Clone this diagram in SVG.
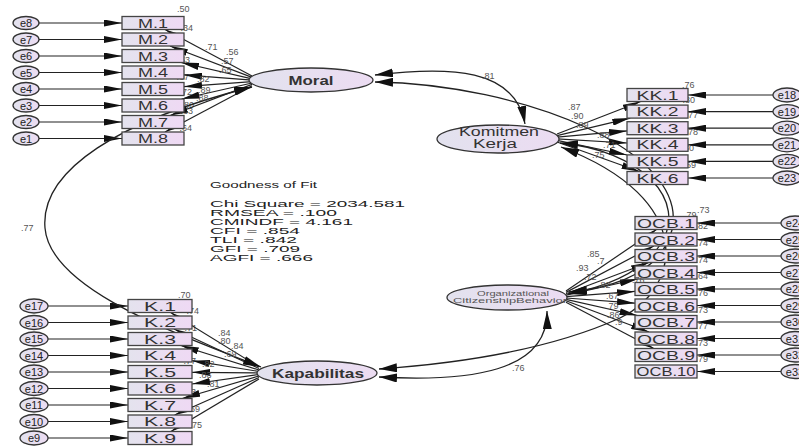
<svg xmlns="http://www.w3.org/2000/svg" width="799" height="446" viewBox="0 0 799 446">
<defs>
<linearGradient id="gb" x1="0" y1="0" x2="1" y2="0"><stop offset="0" stop-color="#e4e3ee"/><stop offset="1" stop-color="#efd9f4"/></linearGradient>
<linearGradient id="ge" x1="0" y1="0" x2="1" y2="0"><stop offset="0" stop-color="#e2e2ee"/><stop offset="1" stop-color="#ecdcf2"/></linearGradient>
<marker id="ah" viewBox="0 0 18 7" refX="18" refY="3.5" markerWidth="18" markerHeight="7" markerUnits="userSpaceOnUse" orient="auto-start-reverse"><path d="M0,0 L18,3.5 L0,7 z" fill="#111"/></marker>
<marker id="ch" viewBox="0 0 18 9" refX="18" refY="4.5" markerWidth="18" markerHeight="9" markerUnits="userSpaceOnUse" orient="auto-start-reverse"><path d="M0,0 L18,4.5 L0,9 z" fill="#111"/></marker>
<style>
text{font-family:"Liberation Sans",Arial,sans-serif}
.box{fill:url(#gb);stroke:#444;stroke-width:1.3}
.lat{fill:url(#ge);stroke:#333;stroke-width:1.3}
.err{fill:url(#ge);stroke:#333;stroke-width:1.3}
.bt{font-size:12px;fill:#333;text-anchor:middle}
.ot{font-size:13px;fill:#333;text-anchor:middle}
.et{font-size:11px;fill:#222;text-anchor:middle}
.lt{font-size:12px;font-weight:bold;fill:#333;text-anchor:middle}
.ln{fill:none;stroke:#222;stroke-width:1.2;marker-end:url(#ah)}
.cv{fill:none;stroke:#222;stroke-width:1.3;marker-start:url(#ch);marker-end:url(#ch)}
.v{font-size:9px;fill:#555}
.vr{font-size:9px;fill:#555;text-anchor:end}
.g{font-size:9.5px;fill:#222}
</style>
</defs>
<rect width="799" height="446" fill="#fff"/>

<!-- squared multiple correlation labels (partly hidden behind boxes) -->
<g id="r2">
<text class="v" x="177" y="12">.50</text>
<text class="vr" x="193" y="31">.34</text>
<text class="vr" x="190" y="63">.53</text>
<text class="vr" x="189" y="80">.67</text>
<text class="vr" x="192" y="95">.72</text>
<text class="vr" x="194" y="108">.80</text>
<text class="vr" x="193" y="114">.63</text>
<text class="vr" x="192" y="131">.64</text>
<text class="v" x="682" y="88">.76</text>
<text class="vr" x="695" y="103">.80</text>
<text class="vr" x="698" y="118">.77</text>
<text class="vr" x="698" y="135">.78</text>
<text class="vr" x="694" y="151">.80</text>
<text class="vr" x="696" y="168">.69</text>
<text class="v" x="697" y="213">.73</text>
<text class="v" x="684" y="218">.79</text>
<text class="vr" x="708" y="229">.82</text>
<text class="vr" x="708" y="246">.74</text>
<text class="vr" x="708" y="263">.74</text>
<text class="vr" x="708" y="279">.64</text>
<text class="vr" x="708" y="296">.76</text>
<text class="vr" x="708" y="313">.73</text>
<text class="vr" x="708" y="329">.77</text>
<text class="vr" x="708" y="346">.73</text>
<text class="vr" x="708" y="362">.79</text>
<text class="v" x="178" y="298">.70</text>
<text class="vr" x="199" y="314">.74</text>
<text class="vr" x="197" y="331">.71</text>
<text class="vr" x="196" y="364">.77</text>
<text class="vr" x="196" y="395">.83</text>
<text class="vr" x="200" y="412">.69</text>
<text class="vr" x="202" y="428">.75</text>
</g>

<!-- connectors -->
<g id="connectors">
<line class="ln" x1="39" y1="23" x2="122" y2="23"/>
<line class="ln" x1="39" y1="39.5" x2="122" y2="39.5"/>
<line class="ln" x1="39" y1="56" x2="122" y2="56"/>
<line class="ln" x1="39" y1="72.5" x2="122" y2="72.5"/>
<line class="ln" x1="39" y1="89" x2="122" y2="89"/>
<line class="ln" x1="39" y1="105.5" x2="122" y2="105.5"/>
<line class="ln" x1="39" y1="122" x2="122" y2="122"/>
<line class="ln" x1="39" y1="138.5" x2="122" y2="138.5"/>
<line class="ln" x1="48" y1="306" x2="128" y2="306"/>
<line class="ln" x1="48" y1="322.5" x2="128" y2="322.5"/>
<line class="ln" x1="48" y1="339" x2="128" y2="339"/>
<line class="ln" x1="48" y1="355.5" x2="128" y2="355.5"/>
<line class="ln" x1="48" y1="372" x2="128" y2="372"/>
<line class="ln" x1="48" y1="388.5" x2="128" y2="388.5"/>
<line class="ln" x1="48" y1="405" x2="128" y2="405"/>
<line class="ln" x1="48" y1="421.5" x2="128" y2="421.5"/>
<line class="ln" x1="48" y1="438" x2="128" y2="438"/>
<line class="ln" x1="773" y1="95" x2="688" y2="95"/>
<line class="ln" x1="773" y1="111.6" x2="688" y2="111.6"/>
<line class="ln" x1="773" y1="128.2" x2="688" y2="128.2"/>
<line class="ln" x1="773" y1="144.8" x2="688" y2="144.8"/>
<line class="ln" x1="773" y1="161.4" x2="688" y2="161.4"/>
<line class="ln" x1="773" y1="178" x2="688" y2="178"/>
<line class="ln" x1="781" y1="223" x2="697" y2="223"/>
<line class="ln" x1="781" y1="239.5" x2="697" y2="239.5"/>
<line class="ln" x1="781" y1="256" x2="697" y2="256"/>
<line class="ln" x1="781" y1="272.5" x2="697" y2="272.5"/>
<line class="ln" x1="781" y1="289" x2="697" y2="289"/>
<line class="ln" x1="781" y1="305.5" x2="697" y2="305.5"/>
<line class="ln" x1="781" y1="322" x2="697" y2="322"/>
<line class="ln" x1="781" y1="338.5" x2="697" y2="338.5"/>
<line class="ln" x1="781" y1="355" x2="697" y2="355"/>
<line class="ln" x1="781" y1="371.5" x2="697" y2="371.5"/>
<line class="ln" x1="252" y1="76" x2="165" y2="29.5"/>
<line class="ln" x1="252" y1="77.4" x2="170" y2="46"/>
<line class="ln" x1="252" y1="78.8" x2="181" y2="62.5"/>
<line class="ln" x1="252" y1="80.2" x2="184" y2="74.9"/>
<line class="ln" x1="252" y1="81.6" x2="184" y2="86.7"/>
<line class="ln" x1="252" y1="83" x2="181.6" y2="99"/>
<line class="ln" x1="252" y1="84.4" x2="170" y2="115.5"/>
<line class="ln" x1="252" y1="85.8" x2="165" y2="132"/>
<line class="ln" x1="259" y1="367" x2="170.6" y2="312.5"/>
<line class="ln" x1="259" y1="368.5" x2="174" y2="329"/>
<line class="ln" x1="259" y1="370" x2="180.8" y2="345.5"/>
<line class="ln" x1="259" y1="371.5" x2="192" y2="360.7"/>
<line class="ln" x1="259" y1="373" x2="192" y2="372.3"/>
<line class="ln" x1="259" y1="374.5" x2="192" y2="384"/>
<line class="ln" x1="259" y1="376" x2="182.2" y2="398.5"/>
<line class="ln" x1="259" y1="377.5" x2="174.6" y2="415"/>
<line class="ln" x1="259" y1="379" x2="170.9" y2="431.5"/>
<line class="ln" x1="557" y1="134" x2="640.7" y2="101.5"/>
<line class="ln" x1="557" y1="135.6" x2="630.3" y2="118.1"/>
<line class="ln" x1="557" y1="137.2" x2="627" y2="130.9"/>
<line class="ln" x1="557" y1="138.8" x2="627" y2="143"/>
<line class="ln" x1="557" y1="140.4" x2="627" y2="155"/>
<line class="ln" x1="557" y1="142" x2="639.4" y2="171.5"/>
<line class="ln" x1="566" y1="291" x2="656.5" y2="229.5"/>
<line class="ln" x1="566" y1="292.4" x2="653.8" y2="246"/>
<line class="ln" x1="566" y1="293.8" x2="649" y2="262.5"/>
<line class="ln" x1="566" y1="295.2" x2="637.7" y2="279"/>
<line class="ln" x1="566" y1="296.6" x2="635" y2="291.4"/>
<line class="ln" x1="566" y1="298" x2="635" y2="303.2"/>
<line class="ln" x1="566" y1="299.4" x2="637.5" y2="315.5"/>
<line class="ln" x1="566" y1="300.8" x2="649" y2="332"/>
<line class="ln" x1="566" y1="302.2" x2="653.8" y2="348.5"/>
<path class="cv" d="M 375 75 C 450 66, 515 68, 525 124"/>
<path class="cv" d="M 375 82 C 520 84, 690 150, 672 230 C 660 275, 610 288, 569 292"/>
<path class="cv" d="M 560 143 C 640 150, 690 200, 660 245 C 640 275, 600 288, 568 294"/>
<path class="cv" d="M 379 369 C 480 362, 560 345, 620 318 C 680 290, 700 200, 561 147"/>
<path class="cv" d="M 379 377 C 470 382, 548 372, 547 311"/>
<path class="cv" d="M 252 87 C 120 120, 40 170, 45 228 C 50 290, 180 335, 261 367"/>
</g>

<g id="M1"><rect class="box" x="122" y="16.5" width="62" height="13"/><text class="bt" x="153" y="27.5" textLength="30" lengthAdjust="spacingAndGlyphs">M.1</text></g>
<g id="M2"><rect class="box" x="122" y="33" width="62" height="13"/><text class="bt" x="153" y="44" textLength="30" lengthAdjust="spacingAndGlyphs">M.2</text></g>
<g id="M3"><rect class="box" x="122" y="49.5" width="62" height="13"/><text class="bt" x="153" y="60.5" textLength="30" lengthAdjust="spacingAndGlyphs">M.3</text></g>
<g id="M4"><rect class="box" x="122" y="66" width="62" height="13"/><text class="bt" x="153" y="77" textLength="30" lengthAdjust="spacingAndGlyphs">M.4</text></g>
<g id="M5"><rect class="box" x="122" y="82.5" width="62" height="13"/><text class="bt" x="153" y="93.5" textLength="30" lengthAdjust="spacingAndGlyphs">M.5</text></g>
<g id="M6"><rect class="box" x="122" y="99" width="62" height="13"/><text class="bt" x="153" y="110" textLength="30" lengthAdjust="spacingAndGlyphs">M.6</text></g>
<g id="M7"><rect class="box" x="122" y="115.5" width="62" height="13"/><text class="bt" x="153" y="126.5" textLength="30" lengthAdjust="spacingAndGlyphs">M.7</text></g>
<g id="M8"><rect class="box" x="122" y="132" width="62" height="13"/><text class="bt" x="153" y="143" textLength="30" lengthAdjust="spacingAndGlyphs">M.8</text></g>

<g id="e8"><ellipse class="err" cx="26" cy="23" rx="13" ry="6.5"/><text class="et" x="26" y="27">e8</text></g>
<g id="e7"><ellipse class="err" cx="26" cy="39.5" rx="13" ry="6.5"/><text class="et" x="26" y="43.5">e7</text></g>
<g id="e6"><ellipse class="err" cx="26" cy="56" rx="13" ry="6.5"/><text class="et" x="26" y="60">e6</text></g>
<g id="e5"><ellipse class="err" cx="26" cy="72.5" rx="13" ry="6.5"/><text class="et" x="26" y="76.5">e5</text></g>
<g id="e4"><ellipse class="err" cx="26" cy="89" rx="13" ry="6.5"/><text class="et" x="26" y="93">e4</text></g>
<g id="e3"><ellipse class="err" cx="26" cy="105.5" rx="13" ry="6.5"/><text class="et" x="26" y="109.5">e3</text></g>
<g id="e2"><ellipse class="err" cx="26" cy="122" rx="13" ry="6.5"/><text class="et" x="26" y="126">e2</text></g>
<g id="e1"><ellipse class="err" cx="26" cy="138.5" rx="13" ry="6.5"/><text class="et" x="26" y="142.5">e1</text></g>

<g id="K1"><rect class="box" x="128" y="299.5" width="64" height="13"/><text class="bt" x="160" y="310.5" textLength="32" lengthAdjust="spacingAndGlyphs">K.1</text></g>
<g id="K2"><rect class="box" x="128" y="316" width="64" height="13"/><text class="bt" x="160" y="327" textLength="32" lengthAdjust="spacingAndGlyphs">K.2</text></g>
<g id="K3"><rect class="box" x="128" y="332.5" width="64" height="13"/><text class="bt" x="160" y="343.5" textLength="32" lengthAdjust="spacingAndGlyphs">K.3</text></g>
<g id="K4"><rect class="box" x="128" y="349" width="64" height="13"/><text class="bt" x="160" y="360" textLength="32" lengthAdjust="spacingAndGlyphs">K.4</text></g>
<g id="K5"><rect class="box" x="128" y="365.5" width="64" height="13"/><text class="bt" x="160" y="376.5" textLength="32" lengthAdjust="spacingAndGlyphs">K.5</text></g>
<g id="K6"><rect class="box" x="128" y="382" width="64" height="13"/><text class="bt" x="160" y="393" textLength="32" lengthAdjust="spacingAndGlyphs">K.6</text></g>
<g id="K7"><rect class="box" x="128" y="398.5" width="64" height="13"/><text class="bt" x="160" y="409.5" textLength="32" lengthAdjust="spacingAndGlyphs">K.7</text></g>
<g id="K8"><rect class="box" x="128" y="415" width="64" height="13"/><text class="bt" x="160" y="426" textLength="32" lengthAdjust="spacingAndGlyphs">K.8</text></g>
<g id="K9"><rect class="box" x="128" y="431.5" width="64" height="13"/><text class="bt" x="160" y="442.5" textLength="32" lengthAdjust="spacingAndGlyphs">K.9</text></g>

<g id="e17"><ellipse class="err" cx="34" cy="306" rx="14" ry="7"/><text class="et" x="34" y="310">e17</text></g>
<g id="e16"><ellipse class="err" cx="34" cy="322.5" rx="14" ry="7"/><text class="et" x="34" y="326.5">e16</text></g>
<g id="e15"><ellipse class="err" cx="34" cy="339" rx="14" ry="7"/><text class="et" x="34" y="343">e15</text></g>
<g id="e14"><ellipse class="err" cx="34" cy="355.5" rx="14" ry="7"/><text class="et" x="34" y="359.5">e14</text></g>
<g id="e13"><ellipse class="err" cx="34" cy="372" rx="14" ry="7"/><text class="et" x="34" y="376">e13</text></g>
<g id="e12"><ellipse class="err" cx="34" cy="388.5" rx="14" ry="7"/><text class="et" x="34" y="392.5">e12</text></g>
<g id="e11"><ellipse class="err" cx="34" cy="405" rx="14" ry="7"/><text class="et" x="34" y="409">e11</text></g>
<g id="e10"><ellipse class="err" cx="34" cy="421.5" rx="14" ry="7"/><text class="et" x="34" y="425.5">e10</text></g>
<g id="e9"><ellipse class="err" cx="34" cy="438" rx="14" ry="7"/><text class="et" x="34" y="442">e9</text></g>

<g id="KK1"><rect class="box" x="627" y="88.5" width="61" height="13"/><text class="bt" x="657.5" y="99.5" textLength="42" lengthAdjust="spacingAndGlyphs">KK.1</text></g>
<g id="KK2"><rect class="box" x="627" y="105.1" width="61" height="13"/><text class="bt" x="657.5" y="116.1" textLength="42" lengthAdjust="spacingAndGlyphs">KK.2</text></g>
<g id="KK3"><rect class="box" x="627" y="121.7" width="61" height="13"/><text class="bt" x="657.5" y="132.7" textLength="42" lengthAdjust="spacingAndGlyphs">KK.3</text></g>
<g id="KK4"><rect class="box" x="627" y="138.3" width="61" height="13"/><text class="bt" x="657.5" y="149.3" textLength="42" lengthAdjust="spacingAndGlyphs">KK.4</text></g>
<g id="KK5"><rect class="box" x="627" y="154.9" width="61" height="13"/><text class="bt" x="657.5" y="165.9" textLength="42" lengthAdjust="spacingAndGlyphs">KK.5</text></g>
<g id="KK6"><rect class="box" x="627" y="171.5" width="61" height="13"/><text class="bt" x="657.5" y="182.5" textLength="42" lengthAdjust="spacingAndGlyphs">KK.6</text></g>

<g id="e18"><ellipse class="err" cx="787" cy="95" rx="14" ry="7"/><text class="et" x="787" y="99">e18</text></g>
<g id="e19"><ellipse class="err" cx="787" cy="111.6" rx="14" ry="7"/><text class="et" x="787" y="115.6">e19</text></g>
<g id="e20"><ellipse class="err" cx="787" cy="128.2" rx="14" ry="7"/><text class="et" x="787" y="132.2">e20</text></g>
<g id="e21"><ellipse class="err" cx="787" cy="144.8" rx="14" ry="7"/><text class="et" x="787" y="148.8">e21</text></g>
<g id="e22"><ellipse class="err" cx="787" cy="161.4" rx="14" ry="7"/><text class="et" x="787" y="165.4">e22</text></g>
<g id="e23"><ellipse class="err" cx="787" cy="178" rx="14" ry="7"/><text class="et" x="787" y="182">e23</text></g>

<g id="OCB1"><rect class="box" x="635" y="216.5" width="62" height="13"/><text class="ot" x="666" y="228" textLength="58" lengthAdjust="spacingAndGlyphs">OCB.1</text></g>
<g id="OCB2"><rect class="box" x="635" y="233" width="62" height="13"/><text class="ot" x="666" y="244.5" textLength="58" lengthAdjust="spacingAndGlyphs">OCB.2</text></g>
<g id="OCB3"><rect class="box" x="635" y="249.5" width="62" height="13"/><text class="ot" x="666" y="261" textLength="58" lengthAdjust="spacingAndGlyphs">OCB.3</text></g>
<g id="OCB4"><rect class="box" x="635" y="266" width="62" height="13"/><text class="ot" x="666" y="277.5" textLength="58" lengthAdjust="spacingAndGlyphs">OCB.4</text></g>
<g id="OCB5"><rect class="box" x="635" y="282.5" width="62" height="13"/><text class="ot" x="666" y="294" textLength="58" lengthAdjust="spacingAndGlyphs">OCB.5</text></g>
<g id="OCB6"><rect class="box" x="635" y="299" width="62" height="13"/><text class="ot" x="666" y="310.5" textLength="58" lengthAdjust="spacingAndGlyphs">OCB.6</text></g>
<g id="OCB7"><rect class="box" x="635" y="315.5" width="62" height="13"/><text class="ot" x="666" y="327" textLength="58" lengthAdjust="spacingAndGlyphs">OCB.7</text></g>
<g id="OCB8"><rect class="box" x="635" y="332" width="62" height="13"/><text class="ot" x="666" y="343.5" textLength="58" lengthAdjust="spacingAndGlyphs">OCB.8</text></g>
<g id="OCB9"><rect class="box" x="635" y="348.5" width="62" height="13"/><text class="ot" x="666" y="360" textLength="58" lengthAdjust="spacingAndGlyphs">OCB.9</text></g>
<g id="OCB10"><rect class="box" x="635" y="365" width="62" height="13"/><text class="ot" x="666" y="376" font-size="12" textLength="59" lengthAdjust="spacingAndGlyphs">OCB.10</text></g>

<g id="e24"><ellipse class="err" cx="795" cy="223" rx="14" ry="7"/><text class="et" x="795" y="227">e24</text></g>
<g id="e25"><ellipse class="err" cx="795" cy="239.5" rx="14" ry="7"/><text class="et" x="795" y="243.5">e25</text></g>
<g id="e26"><ellipse class="err" cx="795" cy="256" rx="14" ry="7"/><text class="et" x="795" y="260">e26</text></g>
<g id="e27"><ellipse class="err" cx="795" cy="272.5" rx="14" ry="7"/><text class="et" x="795" y="276.5">e27</text></g>
<g id="e28"><ellipse class="err" cx="795" cy="289" rx="14" ry="7"/><text class="et" x="795" y="293">e28</text></g>
<g id="e29"><ellipse class="err" cx="795" cy="305.5" rx="14" ry="7"/><text class="et" x="795" y="309.5">e29</text></g>
<g id="e30"><ellipse class="err" cx="795" cy="322" rx="14" ry="7"/><text class="et" x="795" y="326">e30</text></g>
<g id="e31"><ellipse class="err" cx="795" cy="338.5" rx="14" ry="7"/><text class="et" x="795" y="342.5">e31</text></g>
<g id="e32"><ellipse class="err" cx="795" cy="355" rx="14" ry="7"/><text class="et" x="795" y="359">e32</text></g>
<g id="e33"><ellipse class="err" cx="795" cy="371.5" rx="14" ry="7"/><text class="et" x="795" y="375.5">e33</text></g>

<g id="Moral"><ellipse class="lat" cx="311" cy="80" rx="62" ry="12"/><text class="lt" x="311" y="84.5" textLength="45" lengthAdjust="spacingAndGlyphs">Moral</text></g>
<g id="KomitmenKerja"><ellipse class="lat" cx="498" cy="139" rx="61" ry="14"/><text class="bt" x="499" y="136" textLength="80" lengthAdjust="spacingAndGlyphs">Komitmen</text><text class="bt" x="495" y="148" textLength="44" lengthAdjust="spacingAndGlyphs">Kerja</text></g>
<g id="OCB"><ellipse class="lat" cx="507" cy="297.5" rx="60" ry="12.5"/><text x="513" y="296" font-size="6.5" fill="#555" text-anchor="middle" textLength="72" lengthAdjust="spacingAndGlyphs">Organizational</text><text x="510" y="303" font-size="6.5" fill="#555" text-anchor="middle" textLength="114" lengthAdjust="spacingAndGlyphs">CitizenshipBehavior</text></g>
<g id="Kapabilitas"><ellipse class="lat" cx="317" cy="373" rx="60" ry="12"/><text class="lt" x="318" y="377.5" textLength="92" lengthAdjust="spacingAndGlyphs">Kapabilitas</text></g>

<g id="labels">
<text class="v" x="205" y="50">.71</text>
<text class="v" x="226" y="55">.56</text>
<text class="v" x="221" y="64">.57</text>
<text class="v" x="219" y="73">.65</text>
<text class="v" x="197" y="82">.82</text>
<text class="v" x="198" y="93">.89</text>
<text class="v" x="196" y="101">.88</text>
<text class="v" x="568" y="110">.87</text>
<text class="v" x="571" y="119">.90</text>
<text class="v" x="576" y="128">.89</text>
<text class="v" x="597" y="138">.88</text>
<text class="v" x="603" y="148">.71</text>
<text class="v" x="592" y="158">.75</text>
<text class="v" x="587" y="257">.85</text>
<text class="v" x="597" y="264">.7</text>
<text class="v" x="576" y="271">.93</text>
<text class="v" x="584" y="280">.72</text>
<text class="v" x="598" y="288">.82</text>
<text class="v" x="632" y="283">.76</text>
<text class="v" x="606" y="299">.67</text>
<text class="v" x="606" y="309">.79</text>
<text class="v" x="607" y="318">.86</text>
<text class="v" x="615" y="325">.9</text>
<text class="v" x="218" y="336">.84</text>
<text class="v" x="218" y="344">.80</text>
<text class="v" x="231" y="349">.84</text>
<text class="v" x="224" y="357">.69</text>
<text class="v" x="202" y="367">.82</text>
<text class="v" x="199" y="378">.83</text>
<text class="v" x="207" y="387">.81</text>
<text class="v" x="482" y="79">.81</text>
<text class="v" x="21" y="231">.77</text>
<text class="v" x="512" y="371">.76</text>
</g>

<g id="gof">
<text class="g" x="210" y="188" textLength="107" lengthAdjust="spacingAndGlyphs">Goodness of Fit</text>
<text class="g" x="210" y="207" textLength="195" lengthAdjust="spacingAndGlyphs">Chi Square = 2034.581</text>
<text class="g" x="210" y="216" textLength="127" lengthAdjust="spacingAndGlyphs">RMSEA = .100</text>
<text class="g" x="210" y="225" textLength="143" lengthAdjust="spacingAndGlyphs">CMINDF = 4.161</text>
<text class="g" x="210" y="234" textLength="90" lengthAdjust="spacingAndGlyphs">CFI = .854</text>
<text class="g" x="210" y="243" textLength="87" lengthAdjust="spacingAndGlyphs">TLI = .842</text>
<text class="g" x="210" y="252" textLength="90" lengthAdjust="spacingAndGlyphs">GFI = .709</text>
<text class="g" x="210" y="261" textLength="103" lengthAdjust="spacingAndGlyphs">AGFI = .666</text>
</g>
</svg>
